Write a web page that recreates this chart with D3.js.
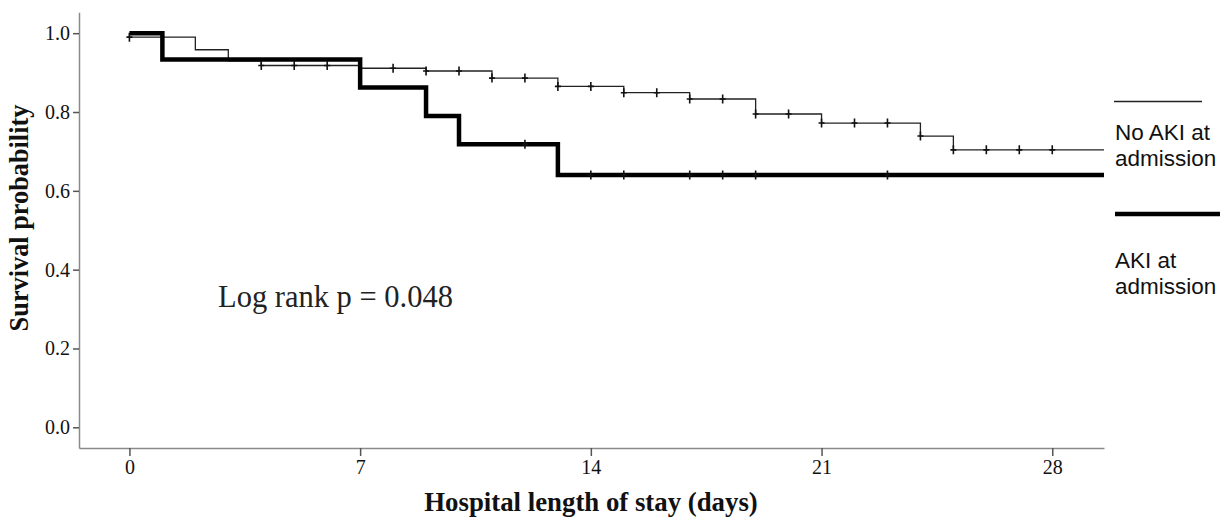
<!DOCTYPE html>
<html>
<head>
<meta charset="utf-8">
<script src="https://cdn.jsdelivr.net/npm/d3@7"></script>
<style>
  html, body { margin: 0; padding: 0; background: #fff; }
  svg { display: block; }
</style>
</head>
<body>
<svg id="chart" width="1224" height="519"></svg>
<script>
// ---- data ----
const noAkiTimes = [0, 0, 2, 3, 4, 7, 9, 11, 13, 15, 17, 19, 21, 24, 25];
const noAkiSurv  = [1.0, 0.99, 0.958, 0.930, 0.918, 0.911, 0.904, 0.886, 0.865, 0.849, 0.833, 0.795, 0.772, 0.739, 0.704];
const noAkiCensor = [0, 4, 5, 6, 8, 9, 10, 11, 12, 13, 14, 15, 16, 17, 18, 19, 20, 21, 22, 23, 24, 25, 26, 27, 28];

const akiTimes = [0, 1, 7, 9, 10, 13];
const akiSurv  = [1.0, 0.933, 0.862, 0.790, 0.718, 0.640];
const akiCensor = [12, 14, 15, 17, 18, 19, 23];

const xTicks = [0, 7, 14, 21, 28];
const yTicks = [0.0, 0.2, 0.4, 0.6, 0.8, 1.0];
const followEnd = 29.57;

const legendLabels = [["No AKI at", "admission"], ["AKI at", "admission"]];
const annotation = "Log rank p = 0.048";
const xTitle = "Hospital length of stay (days)";
const yTitle = "Survival probability";

// ---- scales ----
const svg = d3.select("#chart");
const x = d3.scaleLinear().domain([-1.53, followEnd]).range([79, 1104]);
const y = d3.scaleLinear().domain([-0.0525, 1.053]).range([448, 12.3]);

const serif = "'Liberation Serif', 'Times New Roman', serif";
const sans = "'Liberation Sans', Arial, sans-serif";

// ---- axes ----
const yAxis = svg.append("g").attr("transform", "translate(79,0)")
  .call(d3.axisLeft(y).tickValues(yTicks).tickSize(6).tickSizeOuter(0).tickPadding(3).tickFormat(d3.format(".1f")));
const xAxis = svg.append("g").attr("transform", "translate(0,448)")
  .call(d3.axisBottom(x).tickValues(xTicks).tickSize(8).tickSizeOuter(0).tickPadding(4));

[yAxis, xAxis].forEach(g => {
  g.attr("font-size", null).attr("font-family", null);
  g.select(".domain").attr("stroke", "#8a8a8a").attr("stroke-width", 1.5);
  g.selectAll(".tick line").attr("stroke", "#555").attr("stroke-width", 1.5);
  g.selectAll(".tick text").attr("fill", "#111").style("font-family", serif).style("font-size", "20px");
});

// ---- titles ----
svg.append("text").attr("x", 591).attr("y", 511).attr("text-anchor", "middle")
  .style("font-family", serif).style("font-size", "26.8px").style("font-weight", "bold").attr("fill", "#111")
  .text(xTitle);
svg.append("text").attr("transform", "translate(28,218) rotate(-90)").attr("text-anchor", "middle")
  .style("font-family", serif).style("font-size", "26.3px").style("font-weight", "bold").attr("fill", "#111")
  .text(yTitle);

svg.append("text").attr("x", 218).attr("y", 307)
  .style("font-family", serif).style("font-size", "30.5px").attr("fill", "#222")
  .text(annotation);

// ---- curves ----
function stepPoints(times, surv) {
  const pts = times.map((t, i) => [t, surv[i]]);
  pts.push([followEnd, surv[surv.length - 1]]);
  return pts;
}
function survAt(times, surv, t) {
  let s = surv[0];
  for (let i = 0; i < times.length; i++) if (times[i] <= t) s = surv[i];
  return s;
}
const line = d3.line().x(d => x(d[0])).y(d => y(d[1])).curve(d3.curveStepAfter);

const groups = [
  { times: noAkiTimes, surv: noAkiSurv, censor: noAkiCensor, width: 1.3, color: "#222" },
  { times: akiTimes, surv: akiSurv, censor: akiCensor, width: 4.5, color: "#000" }
];

groups.forEach(gp => {
  svg.append("path").datum(stepPoints(gp.times, gp.surv))
    .attr("d", line).attr("fill", "none").attr("stroke", gp.color)
    .attr("stroke-width", gp.width).attr("stroke-linejoin", "miter").attr("stroke-linecap", "butt");
});
groups.forEach(gp => {
  svg.append("g").selectAll("path").data(gp.censor).join("path")
    .attr("d", t => {
      const cx = x(t), cy = y(survAt(gp.times, gp.surv, t));
      return `M${cx - 3},${cy}H${cx + 3}M${cx},${cy - 4.5}V${cy + 4.5}`;
    })
    .attr("stroke", "#111").attr("stroke-width", 1.6).attr("fill", "none");
});

// ---- legend ----
svg.append("line").attr("x1", 1114).attr("x2", 1202).attr("y1", 101.5).attr("y2", 101.5)
  .attr("stroke", "#222").attr("stroke-width", 1.3);
svg.append("line").attr("x1", 1115).attr("x2", 1220).attr("y1", 214).attr("y2", 214)
  .attr("stroke", "#000").attr("stroke-width", 4.5);

const legendBase = [140, 268];
legendLabels.forEach((lines, i) => {
  lines.forEach((txt, j) => {
    svg.append("text").attr("x", 1115).attr("y", legendBase[i] + j * 26)
      .style("font-family", sans).style("font-size", "22.5px").attr("fill", "#111")
      .text(txt);
  });
});
</script>
</body>
</html>
